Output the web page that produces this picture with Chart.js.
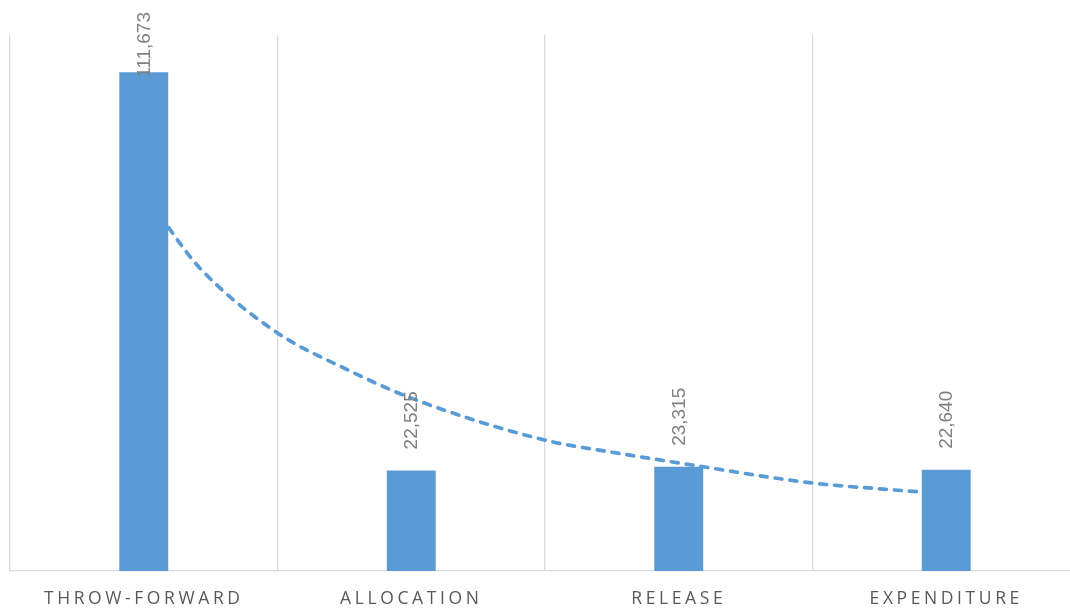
<!DOCTYPE html>
<html>
<head>
<meta charset="utf-8">
<script src="https://cdn.jsdelivr.net/npm/chart.js@4.4.1/dist/chart.umd.min.js"></script>
<style>
  html, body { margin: 0; padding: 0; background: #ffffff; overflow: hidden; width: 1070px; height: 609px; }
  #wrap { width: 1080px; height: 609px; }
</style>
</head>
<body>
<div id="wrap"><canvas id="c" width="1080" height="609"></canvas></div>
<script>
// Data
const categories = ['THROW-FORWARD', 'ALLOCATION', 'RELEASE', 'EXPENDITURE'];
const amounts = [111673, 22525, 23315, 22640];
// Dashed trend curve (position along categories, value)
const trendPositions = [1, 1.1, 1.21, 1.5, 1.75, 2, 2.5, 2.75, 3, 3.5, 3.75, 4];
const trendValues = [85300, 76300, 67800, 53300, 45400, 38700, 29300, 26600, 24200, 19700, 18400, 17300];
const yMax = 120000;

const trendData = trendPositions.map((p, i) => ({ x: p, y: trendValues[i] }));

const letterSpacingPlugin = {
  id: 'letterSpacing',
  beforeDraw(chart) { chart.ctx.letterSpacing = '3.6px'; },
  beforeDatasetsDraw(chart) { chart.ctx.letterSpacing = '0px'; }
};

const valueLabels = {
  id: 'valueLabels',
  afterDatasetsDraw(chart) {
    const ctx = chart.ctx;
    const meta = chart.getDatasetMeta(0);
    ctx.save();
    ctx.letterSpacing = '0px';
    ctx.font = '19px "Liberation Sans", Arial, sans-serif';
    ctx.fillStyle = '#808080';
    ctx.textAlign = 'left';
    ctx.textBaseline = 'middle';
    meta.data.forEach((bar, i) => {
      const txt = amounts[i].toLocaleString('en-US');
      const w = ctx.measureText(txt).width;
      let start = bar.y - 21;
      if (start - w < 12) start = 12 + w;
      ctx.save();
      ctx.translate(bar.x + 1, start);
      ctx.rotate(-Math.PI / 2);
      ctx.fillText(txt, 0, 0);
      ctx.restore();
    });
    ctx.restore();
  }
};

new Chart(document.getElementById('c'), {
  type: 'bar',
  data: {
    labels: categories,
    datasets: [
      {
        type: 'bar',
        data: amounts,
        backgroundColor: '#5b9bd5',
        borderWidth: 0,
        grouped: false,
        categoryPercentage: 1.0,
        barPercentage: 0.183,
        order: 1,
        xAxisID: 'x',
        yAxisID: 'y'
      },
      {
        type: 'line',
        data: trendData,
        xAxisID: 'xt',
        yAxisID: 'y',
        borderColor: '#5b9bd5',
        borderWidth: 3.7,
        borderDash: [7, 8],
        borderCapStyle: 'round',
        pointRadius: 0,
        fill: false,
        cubicInterpolationMode: 'monotone',
        order: 2
      }
    ]
  },
  options: {
    responsive: false,
    animation: false,
    layout: { padding: { left: 10, top: 35, right: 0, bottom: -19 } },
    plugins: { legend: { display: false }, tooltip: { enabled: false } },
    scales: {
      x: {
        type: 'category',
        offset: true,
        grid: { display: true, offset: true, color: '#d9d9d9', lineWidth: 1.3, drawTicks: false, tickLength: 0 },
        border: { display: true, color: '#d9d9d9', width: 1.3 },
        ticks: {
          color: '#595959',
          font: { family: '"Open Sans", sans-serif', size: 17.5 },
          padding: 18,
          maxRotation: 0,
          autoSkip: false
        }
      },
      xt: {
        type: 'linear',
        display: false,
        offset: false,
        min: 0.5,
        max: 4.5
      },
      y: {
        display: false,
        min: 0,
        max: yMax
      }
    }
  },
  plugins: [letterSpacingPlugin, valueLabels]
});
</script>
</body>
</html>
